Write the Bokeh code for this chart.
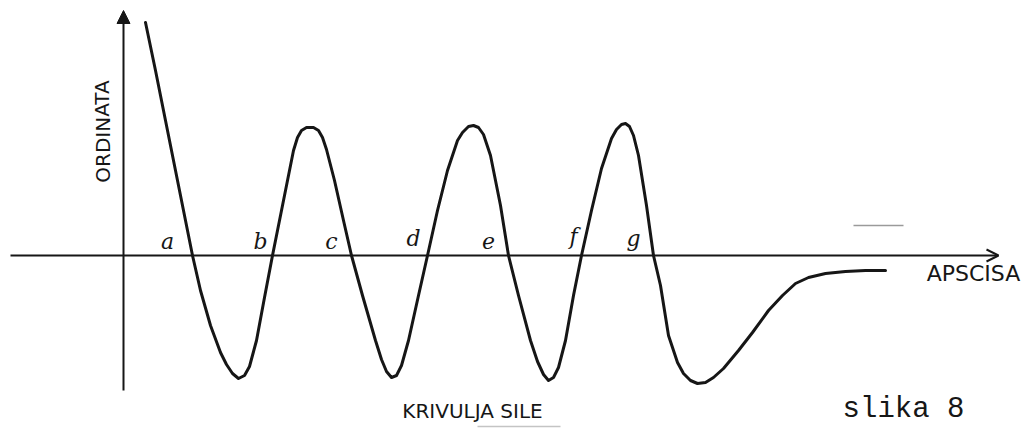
from bokeh.plotting import figure
from bokeh.models import Arrow, NormalHead, OpenHead, Range1d
from bokeh.core.properties import value
from bokeh.embed import file_html
from bokeh.resources import INLINE

# force curve (hand-drawn), origin at axes intersection
curve_x = [22, 32, 42, 52, 62, 69, 77, 87, 97, 103, 109, 115, 121, 126, 133, 141, 149,
           157, 165, 170, 174, 178, 183, 190, 195, 199, 203, 211, 220, 228,
           239, 252, 258, 263, 268, 273, 278, 285, 295, 304,
           314, 324, 334, 339, 345, 350, 355, 360, 367, 377, 385,
           395, 407, 414, 420, 425, 430, 435, 442, 450, 458,
           468, 478, 488, 493, 498, 502, 506, 510, 515, 523, 530,
           537, 545, 554, 560, 567, 574, 582, 590, 600, 615, 629, 645, 659, 672, 685, 702, 722, 742, 762]
curve_y = [233, 185, 135, 85, 35, 0, -35, -70, -97, -109, -118, -123, -120, -111, -85, -42, 0,
           40, 80, 105, 118, 125, 128, 128, 125, 118, 106, 75, 35, 0,
           -40, -85, -104, -116, -122, -120, -110, -85, -40, 0,
           45, 85, 115, 123, 129, 130, 128, 121, 100, 50, 0,
           -40, -85, -106, -119, -125, -122, -112, -85, -40, 0,
           45, 87, 117, 126, 131, 132, 129, 120, 100, 50, 0,
           -30, -80, -107, -118, -125, -128, -127, -122, -113, -95, -77, -55, -40, -28, -22, -18, -16, -15, -15]

point_labels = ["a", "b", "c", "d", "e", "f", "g"]
label_x = [44, 137, 208, 290, 365, 450, 510]
label_y = [14, 14, 14, 17, 15, 19, 17]

x_axis_label = "APSCISA"
y_axis_label = "ORDINATA"
curve_title = "KRIVULJA SILE"
figure_caption = "slika 8"

INK = "#161616"

p = figure(width=1034, height=428, output_backend="svg", toolbar_location=None,
           x_range=Range1d(-123, 911), y_range=Range1d(-173, 255),
           x_axis_type=None, y_axis_type=None, min_border=0)
p.grid.visible = False
p.outline_line_color = None
p.background_fill_color = "white"
p.border_fill_color = "white"

# axes drawn as arrows
p.add_layout(Arrow(end=OpenHead(size=12, line_color=INK, line_width=2),
                   x_start=-113, y_start=0, x_end=875, y_end=0,
                   line_color=INK, line_width=2))
p.add_layout(Arrow(end=NormalHead(size=13, fill_color=INK, line_color=INK),
                   x_start=0, y_start=-135, x_end=0, y_end=245,
                   line_color=INK, line_width=2))

# scan artefacts
p.line([730, 780], [30, 30], line_color="#9a9a9a", line_width=1.5)
p.line([354, 437], [-171, -171], line_color="#c4c4c4", line_width=1.5)

# curve
p.line(curve_x, curve_y, line_color=INK, line_width=3, line_join="round", line_cap="round")

# point labels
p.text(label_x, label_y, text=point_labels, text_font=value("DejaVu Serif"),
       text_font_style="italic", text_font_size="22px", text_color=INK,
       text_align="center", text_baseline="middle")

p.text([-21], [124], text=[y_axis_label], angle=1.5708, text_font=value("DejaVu Sans"),
       text_font_size="20px", text_color=INK, text_align="center", text_baseline="middle")
p.text([850], [-18], text=[x_axis_label], text_font=value("DejaVu Sans"),
       text_font_size="22px", text_color=INK, text_align="center", text_baseline="middle")
p.text([349], [-155], text=[curve_title], text_font=value("DejaVu Sans"),
       text_font_size="20px", text_color=INK, text_align="center", text_baseline="middle")
p.text([780], [-154], text=[figure_caption], text_font=value("Liberation Mono"),
       text_font_size="29px", text_color=INK, text_align="center", text_baseline="middle")

open("out.html", "w").write(file_html(p, INLINE))
